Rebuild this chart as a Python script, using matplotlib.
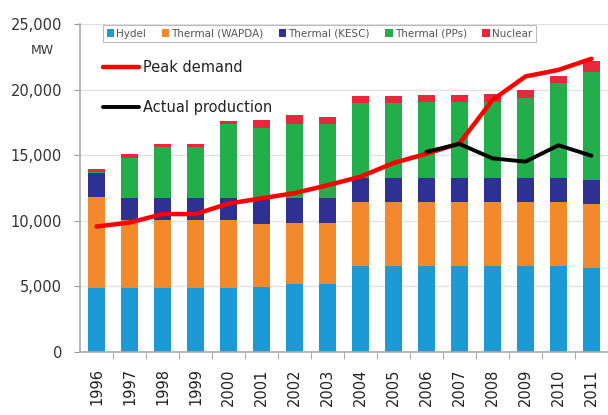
import matplotlib
matplotlib.use('Agg')
import matplotlib.pyplot as plt
import numpy as np

# data (MW)
years = ['1996', '1997', '1998', '1999', '2000', '2001', '2002', '2003',
         '2004', '2005', '2006', '2007', '2008', '2009', '2010', '2011']
hydel = [4850, 4850, 4850, 4850, 4850, 4950, 5150, 5150,
         6500, 6500, 6500, 6500, 6500, 6500, 6500, 6400]
thermal_wapda = [6950, 5200, 5200, 5200, 5200, 4800, 4700, 4700,
                 4950, 4950, 4950, 4950, 4950, 4950, 4950, 4900]
thermal_kesc = [1800, 1650, 1650, 1650, 1650, 1950, 1850, 1850,
                1780, 1780, 1780, 1780, 1780, 1780, 1780, 1780]
thermal_pps = [100, 3050, 3950, 3950, 5650, 5350, 5700, 5700,
               5750, 5750, 5800, 5800, 5850, 6100, 7250, 8250]
nuclear = [200, 300, 200, 200, 280, 600, 620, 500,
           500, 550, 580, 580, 550, 640, 570, 880]

peak_demand = [9550, 9850, 10500, 10500, 11300, 11700, 12100, 12700,
               13350, 14400, 15100, 15900, 19200, 21000, 21500, 22350]
prod_years = ['2006', '2007', '2008', '2009', '2010', '2011']
actual_production = [15250, 15850, 14750, 14500, 15750, 14950]

series = [
    ('Hydel', hydel, '#1B9AD6'),
    ('Thermal (WAPDA)', thermal_wapda, '#F28A2B'),
    ('Thermal (KESC)', thermal_kesc, '#2E3192'),
    ('Thermal (PPs)', thermal_pps, '#21AE4B'),
    ('Nuclear', nuclear, '#E8263C'),
]

fig = plt.figure(figsize=(6.08, 4.15), dpi=100)
ax = fig.add_axes([80 / 608, 1 - 351.7 / 415, 528 / 608, (351.7 - 24) / 415])

x = np.arange(len(years))
bottom = np.zeros(len(years))
bar_handles = []
for name, vals, col in series:
    b = ax.bar(x, vals, 0.5, bottom=bottom, color=col, label=name, zorder=2)
    bar_handles.append(b)
    bottom += np.array(vals)

px = [years.index(y) for y in prod_years]
l1, = ax.plot(x, peak_demand, color='#FF0000', lw=3.2, zorder=3, label='Peak demand',
              solid_capstyle='round')
l2, = ax.plot(px, actual_production, color='black', lw=2.8, zorder=3,
              label='Actual production', solid_capstyle='round')

ax.set_xlim(-0.5, 15.5)
ax.set_ylim(0, 25000)
ax.set_yticks(np.arange(0, 25001, 5000))
ax.set_yticklabels(['{:,}'.format(v) for v in range(0, 25001, 5000)])
ax.set_xticks(x)
ax.set_xticklabels(years, rotation=90)
ax.set_xticks(np.arange(0.5, 15.6, 1), minor=True)
ax.tick_params(axis='x', which='major', length=0, pad=12, labelsize=10.5, labelcolor='#222222')
ax.tick_params(axis='x', which='minor', length=5, color='#999999', direction='out')
ax.tick_params(axis='y', length=4, color='#999999', pad=9, labelsize=10.5, labelcolor='#333333')

ax.grid(axis='y', color='#e2e2e2', lw=1, zorder=0)
ax.set_axisbelow(True)
for s in ['top', 'right']:
    ax.spines[s].set_visible(False)
for s in ['left', 'bottom']:
    ax.spines[s].set_color('#aaaaaa')
    ax.spines[s].set_linewidth(1.2)

fig.text(42 / 608, 1 - 51 / 415, 'MW', ha='center', va='center', fontsize=9, color='#333333')

leg1 = ax.legend(handles=bar_handles, loc='upper left', bbox_to_anchor=(103 / 608, 1 - 25 / 415),
                 bbox_transform=fig.transFigure, ncol=5, fontsize=7.5, frameon=True, fancybox=False,
                 edgecolor='#aaaaaa', handlelength=0.7, handleheight=0.7, handletextpad=0.2,
                 columnspacing=1.5, borderpad=0.35, borderaxespad=0, labelcolor='#555555')
leg1.get_frame().set_linewidth(0.8)
ax.add_artist(leg1)

ax.legend(handles=[l1, l2], loc='upper left', bbox_to_anchor=(97 / 608, 1 - 54 / 415),
          bbox_transform=fig.transFigure, fontsize=10.5, frameon=False, handlelength=2.5,
          handletextpad=0.25, labelspacing=1.75, borderaxespad=0, labelcolor='#222222')

fig.savefig('out.png', dpi=100)
